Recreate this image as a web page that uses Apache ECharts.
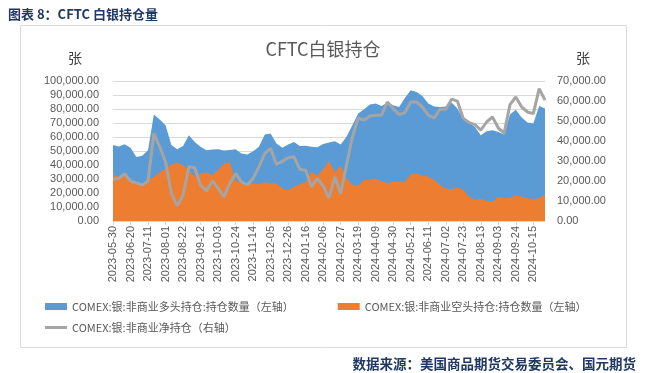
<!DOCTYPE html>
<html>
<head>
<meta charset="utf-8">
<script src="https://cdn.jsdelivr.net/npm/echarts@6/dist/echarts.min.js"></script>
<style>html,body{margin:0;padding:0;background:#fff;}#c{width:646px;height:373px;}</style>
</head>
<body>
<div id="c"></div>
<script>
const categories = [
'2023-05-30','2023-06-06','2023-06-13','2023-06-20','2023-06-27','2023-07-04','2023-07-11','2023-07-18','2023-07-25','2023-08-01',
'2023-08-08','2023-08-15','2023-08-22','2023-08-29','2023-09-05','2023-09-12','2023-09-19','2023-09-26','2023-10-03','2023-10-10',
'2023-10-17','2023-10-24','2023-10-31','2023-11-07','2023-11-14','2023-11-21','2023-11-28','2023-12-05','2023-12-12','2023-12-19',
'2023-12-26','2024-01-02','2024-01-09','2024-01-16','2024-01-23','2024-01-30','2024-02-06','2024-02-13','2024-02-20','2024-02-27',
'2024-03-05','2024-03-12','2024-03-19','2024-03-26','2024-04-02','2024-04-09','2024-04-16','2024-04-23','2024-04-30','2024-05-07',
'2024-05-14','2024-05-21','2024-05-28','2024-06-04','2024-06-11','2024-06-18','2024-06-25','2024-07-02','2024-07-09','2024-07-16',
'2024-07-23','2024-07-30','2024-08-06','2024-08-13','2024-08-20','2024-08-27','2024-09-03','2024-09-10','2024-09-17','2024-09-24',
'2024-10-01','2024-10-08','2024-10-15','2024-10-22','2024-10-29'];

const longPos = [
54200,53200,54900,52300,45800,46600,50600,76000,72500,68400,
54200,51300,53500,61300,56500,53000,50600,51100,51300,50400,
50800,51300,48200,47500,49900,53000,61800,62500,55400,52300,
54700,56500,53500,53700,53000,52700,55000,56100,57000,54700,
60100,68400,76800,79800,83200,83900,82200,84600,82700,81500,
87900,93400,92200,89300,84000,81700,81500,81700,84600,80300,
72700,70100,67200,61300,64100,64900,63600,61800,76000,79500,
74000,70300,69600,82200,80300];

const shortPos = [
33300,31600,32800,28500,27300,25700,29200,31600,34700,37500,
40400,41800,39900,36300,31600,34000,34700,32800,36300,41000,
42000,28500,27600,26900,26900,26200,27600,26900,26700,23300,
22100,24500,26200,27600,35200,32300,37000,42800,34700,39400,
30400,25700,25200,29200,29900,30400,28500,26900,28000,28000,
28000,33300,34000,32300,31600,29200,25700,23300,22800,23700,
22100,17300,15200,15700,14300,13800,17300,16200,16600,18500,
17300,16200,15700,16200,19000];

const netPos = [
21000,21300,23600,20000,19000,18000,20000,43800,37100,29600,
13800,7600,13000,27100,26600,18000,15000,20000,16500,12100,
18800,23800,19600,18000,21300,27100,33800,36300,28300,29900,
31600,32100,25900,25400,17100,21300,17500,11600,22100,13800,
28000,42000,51500,50400,52500,52900,52900,59500,56200,53200,
54200,59500,59500,57000,53000,51500,55900,55900,60900,59900,
51200,49200,48200,45400,49500,52000,46500,44000,58200,62000,
57000,54500,53700,66200,60400];

const seriesNames = ['COMEX:银:非商业多头持仓:持仓数量（左轴）','COMEX:银:非商业空头持仓:持仓数量（左轴）','COMEX:银:非商业净持仓（右轴）'];

const fmt = v => v.toLocaleString('en-US',{minimumFractionDigits:2,maximumFractionDigits:2});
const latin = 'Liberation Sans, Noto Sans CJK SC, sans-serif';
const cjk = 'Noto Sans CJK SC, sans-serif';

const chart = echarts.init(document.getElementById('c'), null, {renderer:'canvas'});
chart.setOption({
  animation:false,
  backgroundColor:'#fff',
  graphic:[{type:'rect',shape:{x:20.5,y:25.5,width:606,height:322},style:{fill:'none',stroke:'#D9D9D9',lineWidth:1},z:-1}],
  title:[
    {text:'图表 8：CFTC 白银持仓量',left:3,top:3,textStyle:{fontFamily:cjk,fontSize:13,fontWeight:'bold',color:'#1F3864'}},
    {text:'CFTC白银持仓',left:'center',top:35,textStyle:{fontFamily:cjk,fontSize:18,fontWeight:'normal',color:'#595959'}},
    {text:'数据来源：美国商品期货交易委员会、国元期货',right:5,top:352,textStyle:{fontFamily:cjk,fontSize:13.5,fontWeight:'bold',color:'#1F3864'}}
  ],
  legend:[
    {data:[seriesNames[0],seriesNames[1]],left:40,top:296,itemWidth:22,itemHeight:7,itemGap:44,icon:'rect',
     textStyle:{fontFamily:cjk,fontSize:11,color:'#595959'}},
    {data:[seriesNames[2]],left:40,top:317,itemWidth:22,itemHeight:3,icon:'rect',
     textStyle:{fontFamily:cjk,fontSize:11,color:'#595959'}}
  ],
  grid:{left:113,right:101,top:81,bottom:152,containLabel:false},
  xAxis:{type:'category',data:categories,boundaryGap:false,
    axisLine:{lineStyle:{color:'#D9D9D9'}},
    axisTick:{show:true,interval:2,length:4,lineStyle:{color:'#D9D9D9'}},
    axisLabel:{interval:2,rotate:90,fontFamily:latin,fontSize:11,color:'#595959',margin:5},
    splitLine:{show:false}},
  yAxis:[
    {type:'value',min:0,max:100000,interval:10000,name:'张',nameLocation:'end',nameGap:16,
     nameTextStyle:{fontFamily:cjk,fontSize:14,color:'#404040',align:'right',padding:[0,31,0,0]},
     axisLine:{show:false},axisTick:{show:false},
     axisLabel:{formatter:fmt,fontFamily:latin,fontSize:11,color:'#595959',margin:14},
     splitLine:{lineStyle:{color:'#D9D9D9',width:1}}},
    {type:'value',min:0,max:70000,interval:10000,name:'张',nameLocation:'end',nameGap:16,
     nameTextStyle:{fontFamily:cjk,fontSize:14,color:'#404040',align:'left',padding:[0,0,0,31]},
     axisLine:{show:false},axisTick:{show:false},
     axisLabel:{formatter:fmt,fontFamily:latin,fontSize:11,color:'#595959',margin:12},
     splitLine:{show:false}}
  ],
  series:[
    {name:seriesNames[0],type:'line',data:longPos,yAxisIndex:0,symbol:'none',
     lineStyle:{width:0,color:'#5B9BD5'},itemStyle:{color:'#5B9BD5'},areaStyle:{color:'#5B9BD5',opacity:1},z:2},
    {name:seriesNames[1],type:'line',data:shortPos,yAxisIndex:0,symbol:'none',
     lineStyle:{width:0,color:'#ED7D31'},itemStyle:{color:'#ED7D31'},areaStyle:{color:'#ED7D31',opacity:1},z:3},
    {name:seriesNames[2],type:'line',data:netPos,yAxisIndex:1,symbol:'none',
     lineStyle:{width:3,color:'#A5A5A5'},itemStyle:{color:'#A5A5A5'},z:4}
  ]
});
</script>
</body>
</html>
